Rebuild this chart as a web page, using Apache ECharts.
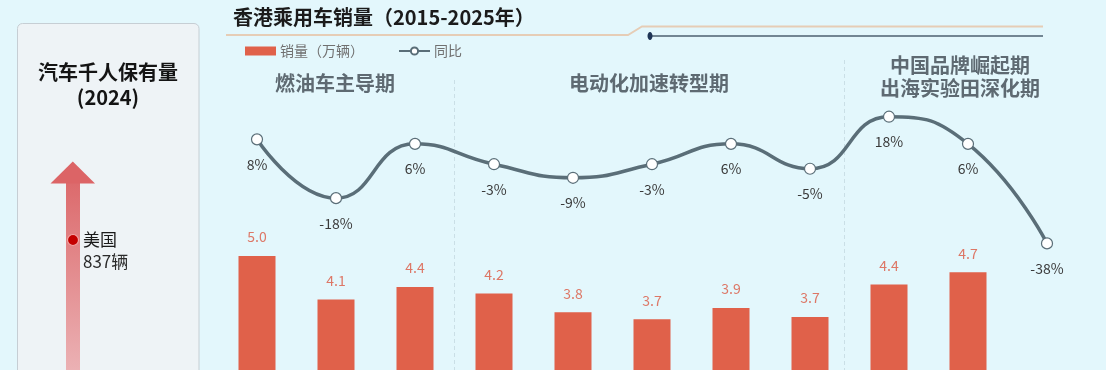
<!DOCTYPE html>
<html>
<head>
<meta charset="utf-8">
<script src="https://cdn.jsdelivr.net/npm/echarts@6/dist/echarts.min.js"></script>
<style>
html,body{margin:0;padding:0;background:#e3f7fc;}
#c{width:1106px;height:370px;}
</style>
</head>
<body>
<div id="c"></div>
<script>
var years = ['2015','2016','2017','2018','2019','2020','2021','2022','2023','2024','2025'];
var sales = [5.02, 4.09, 4.36, 4.22, 3.82, 3.67, 3.91, 3.72, 4.41, 4.67, null];
var yoy = [8, -18, 6, -3, -9, -3, 6, -5, 18, 6, -38];
var periods = ['燃油车主导期', '电动化加速转型期', '中国品牌崛起期', '出海实验田深化期'];

var FONT = '"Noto Sans CJK SC", "Noto Sans", sans-serif';
var chart = echarts.init(document.getElementById('c'), null, {renderer: 'canvas'});

var option = {
  backgroundColor: '#e3f7fc',
  animation: false,
  textStyle: {fontFamily: FONT},
  title: {
    text: '香港乘用车销量（2015-2025年）',
    left: 228, top: 2,
    textStyle: {fontSize: 20, fontWeight: 'bold', color: '#1b1b1b', fontFamily: FONT}
  },
  legend: {
    left: 240, top: 39,
    itemGap: 34,
    itemWidth: 31, itemHeight: 9,
    textStyle: {fontSize: 14, color: '#707070', fontFamily: FONT, padding: [0,0,0,-1]},
    data: [
      {name: '销量（万辆）', icon: 'rect'},
      {name: '同比'}
    ]
  },
  grid: [
    {left: 217.5, width: 869, top: 210, height: 281.3, containLabel: false, outerBoundsMode: 'none'},
    {left: 217.5, width: 869, top: 112.2, height: 135.7, containLabel: false, outerBoundsMode: 'none'}
  ],
  xAxis: [
    {type: 'category', data: years, gridIndex: 0, show: false},
    {type: 'category', data: years, gridIndex: 1, show: false}
  ],
  yAxis: [
    {type: 'value', gridIndex: 0, min: 0, max: 6, show: false, splitLine: {show: false}},
    {type: 'value', gridIndex: 1, min: -40, max: 20, show: false, splitLine: {show: false}}
  ],
  series: [
    {
      name: '销量（万辆）', type: 'bar', xAxisIndex: 0, yAxisIndex: 0,
      data: sales, barWidth: 37,
      itemStyle: {color: '#e0614a'},
      label: {
        show: true, position: 'top', distance: 12,
        color: '#dd7766', fontSize: 14, fontFamily: FONT,
        formatter: function (p) { return p.value == null ? '' : (Math.round(p.value * 10) / 10).toFixed(1); }
      }
    },
    {
      name: '同比', type: 'line', xAxisIndex: 1, yAxisIndex: 1,
      data: yoy, smooth: 0.5,
      symbol: 'circle', symbolSize: 11,
      lineStyle: {color: '#5a6e78', width: 3.5},
      itemStyle: {color: '#ffffff', borderColor: '#5a6e78', borderWidth: 1.2},
      label: {
        show: true, position: 'bottom', distance: 12,
        color: '#3a3a3a', fontSize: 14, fontFamily: FONT,
        formatter: '{c}%'
      },
      z: 5
    }
  ],
  graphic: [
    {type: 'rect', shape: {x: 17.5, y: 23.5, width: 181.5, height: 400, r: 5},
     style: {fill: '#eef3f6', stroke: '#c6ced4', lineWidth: 1}, z: 0},
    {type: 'text', x: 108, y: 72, style: {text: '汽车千人保有量', font: 'bold 20px ' + FONT, fill: '#141414', textAlign: 'center', textVerticalAlign: 'middle'}},
    {type: 'text', x: 108, y: 97, style: {text: '(2024)', font: 'bold 20px ' + FONT, fill: '#141414', textAlign: 'center', textVerticalAlign: 'middle'}},
    {type: 'rect', shape: {x: 66, y: 182, width: 14, height: 188},
     style: {fill: new echarts.graphic.LinearGradient(0, 0, 0, 1, [{offset: 0, color: '#dc6a6c'}, {offset: 1, color: '#ebb1b4'}])}},
    {type: 'polygon', shape: {points: [[72.8, 161.5], [95, 183.5], [50.5, 183.5]]},
     style: {fill: '#dc6466'}},
    {type: 'circle', shape: {cx: 73, cy: 240, r: 5.5}, style: {fill: '#c40000', stroke: '#f3a7a7', lineWidth: 1.2}},
    {type: 'text', x: 83, y: 240, style: {text: '美国', font: '17px ' + FONT, fill: '#1a1a1a', textVerticalAlign: 'middle'}},
    {type: 'text', x: 83, y: 262, style: {text: '837辆', font: '17px ' + FONT, fill: '#2a2a2a', textVerticalAlign: 'middle'}},
    {type: 'polyline', shape: {points: [[226, 35], [628, 35], [642, 26.5], [1043, 26.5]]},
     style: {stroke: '#e6cdb6', lineWidth: 1.8, fill: null}},
    {type: 'line', shape: {x1: 650, y1: 36, x2: 1043, y2: 36}, style: {stroke: '#4d6170', lineWidth: 1.5}},
    {type: 'ellipse', shape: {cx: 650, cy: 36, rx: 2.5, ry: 4}, style: {fill: '#1f3556'}},
    {type: 'line', shape: {x1: 454.5, y1: 80, x2: 454.5, y2: 370}, style: {stroke: '#cadfe6', lineWidth: 1, lineDash: [4, 3]}},
    {type: 'line', shape: {x1: 844.5, y1: 60, x2: 844.5, y2: 370}, style: {stroke: '#cadfe6', lineWidth: 1, lineDash: [4, 3]}},
    {type: 'text', x: 335, y: 83, style: {text: periods[0], font: 'bold 20px ' + FONT, fill: '#5e6a72', textAlign: 'center', textVerticalAlign: 'middle'}},
    {type: 'text', x: 649, y: 83, style: {text: periods[1], font: 'bold 20px ' + FONT, fill: '#5e6a72', textAlign: 'center', textVerticalAlign: 'middle'}},
    {type: 'text', x: 960, y: 65, style: {text: periods[2], font: 'bold 20px ' + FONT, fill: '#5e6a72', textAlign: 'center', textVerticalAlign: 'middle'}},
    {type: 'text', x: 960, y: 88, style: {text: periods[3], font: 'bold 20px ' + FONT, fill: '#5e6a72', textAlign: 'center', textVerticalAlign: 'middle'}}
  ]
};
chart.setOption(option);
</script>
</body>
</html>
